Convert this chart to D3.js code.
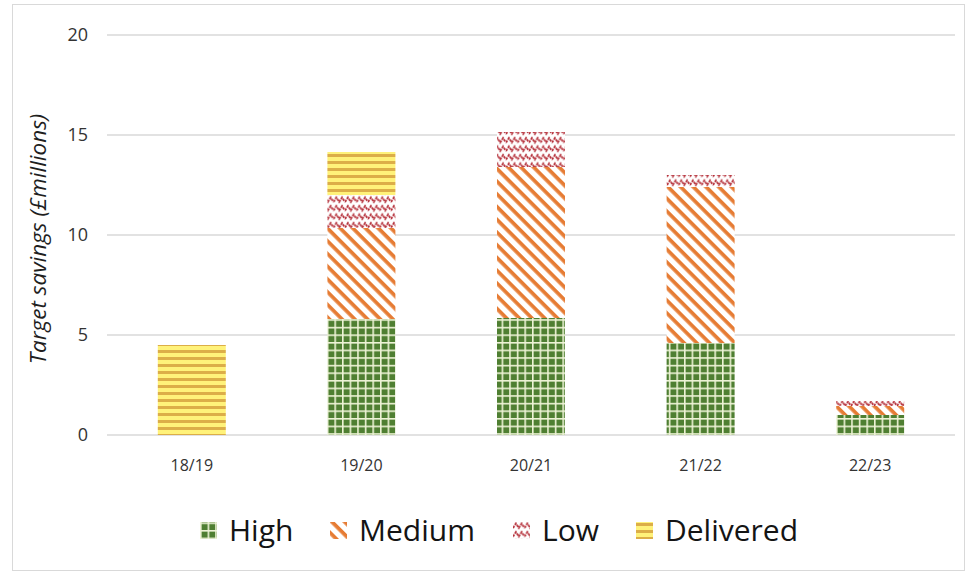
<!DOCTYPE html>
<html>
<head>
<meta charset="utf-8">
<script src="https://cdn.jsdelivr.net/npm/d3@7"></script>
<style>
  body { margin: 0; background: #fff; }
  svg { display: block; }
</style>
</head>
<body>
<svg id="chart"></svg>
<script>
// data
const years = ["18/19", "19/20", "20/21", "21/22", "22/23"];
const seriesNames = ["High", "Medium", "Low", "Delivered"];
const high = [0, 5.8, 5.85, 4.6, 1.0];
const medium = [0, 4.55, 7.55, 7.8, 0.45];
const low = [0, 1.65, 1.75, 0.6, 0.25];
const delivered = [4.5, 2.15, 0, 0, 0];
const yTicks = [0, 5, 10, 15, 20];

const W = 969, H = 576;
const font = "'Open Sans', Lato, sans-serif";
const svg = d3.select("#chart").attr("width", W).attr("height", H);

const defs = svg.append("defs");

// High - small grid
const pHigh = defs.append("pattern").attr("id", "p-high")
  .attr("patternUnits", "userSpaceOnUse").attr("width", 7.6).attr("height", 7.6);
pHigh.append("rect").attr("width", 7.6).attr("height", 7.6).attr("fill", "#eef3d6");
pHigh.append("rect").attr("x", 1.6).attr("y", 1.6).attr("width", 6).attr("height", 6).attr("fill", "#4f7f32");

// Medium - wide downward diagonal
const pMed = defs.append("pattern").attr("id", "p-med")
  .attr("patternUnits", "userSpaceOnUse").attr("width", 9).attr("height", 9)
  .attr("patternTransform", "rotate(45)");
pMed.append("rect").attr("width", 9).attr("height", 9).attr("fill", "#fff");
pMed.append("rect").attr("x", 0).attr("y", 0).attr("width", 9).attr("height", 3.7).attr("fill", "#e67c34");

// Low - zigzag
const pLow = defs.append("pattern").attr("id", "p-low")
  .attr("patternUnits", "userSpaceOnUse").attr("width", 11.5).attr("height", 8.5);
pLow.append("rect").attr("width", 11.5).attr("height", 8.5).attr("fill", "#fff");
pLow.append("path").attr("d", "M0,6.5 L2.875,2 L5.75,6.5 L8.625,2 L11.5,6.5")
  .attr("fill", "none").attr("stroke", "#b5303a").attr("stroke-width", 1.8)
  .attr("stroke-dasharray", "2.5,1");

// Delivered - horizontal stripes
const pDel = defs.append("pattern").attr("id", "p-del")
  .attr("patternUnits", "userSpaceOnUse").attr("width", 8).attr("height", 7);
pDel.append("rect").attr("width", 8).attr("height", 7).attr("fill", "#fff27a");
pDel.append("rect").attr("y", 0).attr("width", 8).attr("height", 3).attr("fill", "#dcae48");

const fills = { High: "url(#p-high)", Medium: "url(#p-med)", Low: "url(#p-low)", Delivered: "url(#p-del)" };

// chart border
svg.append("rect").attr("x", 12.5).attr("y", 4.5).attr("width", 952).attr("height", 566)
  .attr("fill", "none").attr("stroke", "#d9d9d9");

const x = d3.scaleBand().domain(years).range([107, 955]).padding(0);
const y = d3.scaleLinear().domain([0, 20]).range([435, 35]);

// gridlines
svg.append("g").selectAll("line").data(yTicks).join("line")
  .attr("x1", 107).attr("x2", 955)
  .attr("y1", d => y(d)).attr("y2", d => y(d))
  .attr("stroke", "#d9d9d9").attr("stroke-width", 1.3);

// y tick labels
svg.append("g").selectAll("text").data(yTicks).join("text")
  .attr("x", 88).attr("y", d => y(d)).attr("dy", "0.35em")
  .attr("text-anchor", "end")
  .attr("font-family", font).attr("font-size", 18)
  .attr("fill", "#333").text(d => d);

// x labels
svg.append("g").selectAll("text").data(years).join("text")
  .attr("x", d => x(d) + x.bandwidth() / 2).attr("y", 465)
  .attr("dy", "0.35em").attr("text-anchor", "middle")
  .attr("font-family", font).attr("font-size", 16)
  .attr("fill", "#333").text(d => d);

// y title
svg.append("text")
  .attr("transform", "translate(46,239) rotate(-90)")
  .attr("text-anchor", "middle")
  .attr("font-family", font).attr("font-size", 22.5)
  .attr("font-style", "italic").attr("fill", "#1f1f1f")
  .text("Target savings (£millions)");

// stacked bars
const table = years.map((yr, i) => ({
  year: yr, High: high[i], Medium: medium[i], Low: low[i], Delivered: delivered[i]
}));
const stacked = d3.stack().keys(seriesNames)(table);
const barW = 68;

svg.append("g").selectAll("g").data(stacked).join("g")
  .attr("fill", d => fills[d.key])
  .selectAll("rect").data(d => d.filter(s => s[1] - s[0] > 0)).join("rect")
  .attr("x", d => x(d.data.year) + x.bandwidth() / 2 - barW / 2)
  .attr("width", barW)
  .attr("y", d => y(d[1]))
  .attr("height", d => y(d[0]) - y(d[1]));

// legend
const legendX = [200, 330, 513, 636];
const legend = svg.append("g").selectAll("g").data(seriesNames).join("g")
  .attr("transform", (d, i) => `translate(${legendX[i]},530)`);
legend.append("rect").attr("x", 0).attr("y", -8).attr("width", 17).attr("height", 17)
  .attr("fill", d => fills[d]);
legend.append("text").attr("x", 29).attr("y", 0).attr("dy", "0.35em")
  .attr("font-family", font).attr("font-size", 30)
  .attr("fill", "#141414").text(d => d);
</script>
</body>
</html>
